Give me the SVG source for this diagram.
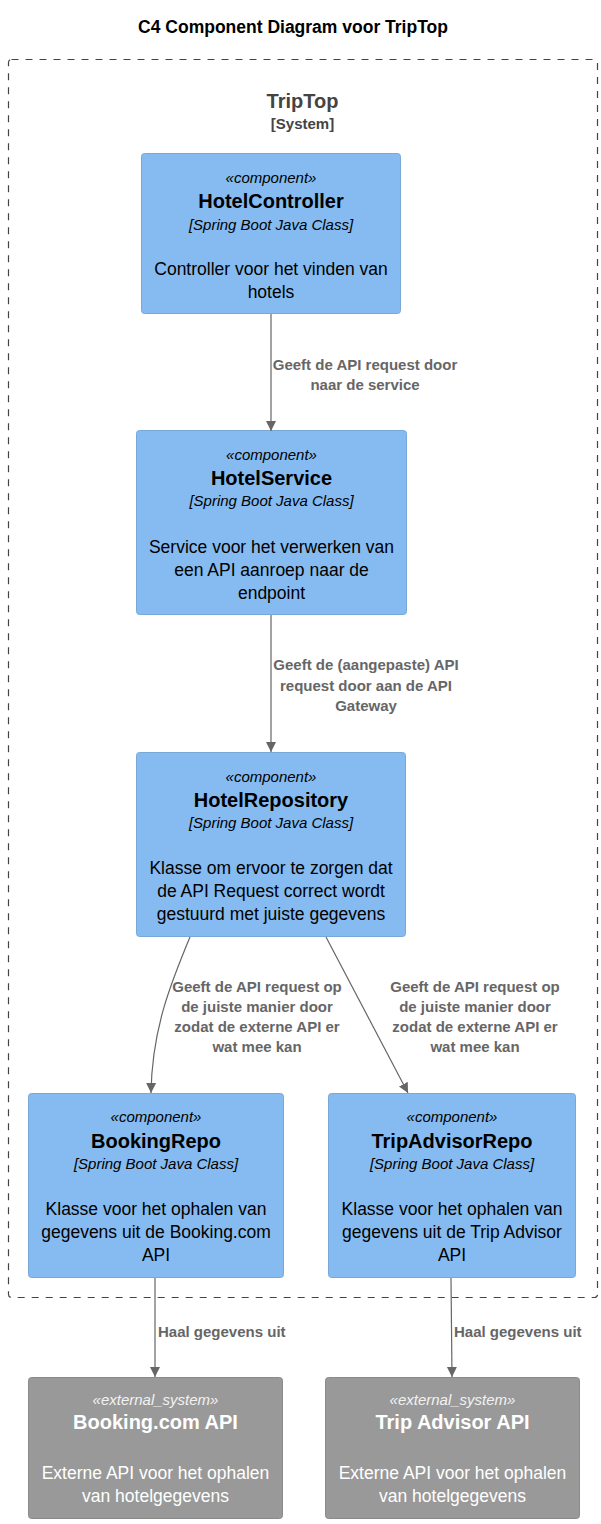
<svg xmlns="http://www.w3.org/2000/svg" width="601" height="1524" viewBox="0 0 601 1524">
<style>
text{font-family:"Liberation Sans",Arial,sans-serif;text-anchor:middle}
.title{font-size:17.5px;font-weight:bold;fill:#000}
.bname{font-size:20px;font-weight:bold;fill:#444}
.btype{font-size:15px;font-weight:bold;fill:#444}
.comp{fill:#85BBF0;stroke:#78A8D8;stroke-width:1}
.ext{fill:#999999;stroke:#8A8A8A;stroke-width:1}
.st{font-size:15px;font-style:italic;fill:#000}
.nm{font-size:20px;font-weight:bold;fill:#000}
.tc{font-size:15px;font-style:italic;fill:#000}
.ds{font-size:17.5px;fill:#000}
.ext-t .st,.ext-t .nm,.ext-t .ds{fill:#fff}
.ext-t .st{fill:#f2f2f2}
.conn{fill:none;stroke:#666;stroke-width:1.2}
.lbl{font-size:15px;font-weight:bold;fill:#666}
.lbll{font-size:15px;font-weight:bold;fill:#666;text-anchor:start}
</style>
<defs>
<marker id="ah" viewBox="0 0 10 10" refX="10" refY="5" markerWidth="10" markerHeight="11" markerUnits="userSpaceOnUse" orient="auto">
<path d="M0,0 L10,5 L0,10 z" fill="#666"/>
</marker>
</defs>
<rect width="601" height="1524" fill="#fff"/>
<text class="title" x="293" y="33">C4 Component Diagram voor TripTop</text>

<g id="boundary">
<rect x="8.5" y="59.5" width="589" height="1238" rx="3" fill="none" stroke="#444" stroke-width="1.2" stroke-dasharray="7,7"/>
<text class="bname" x="302.5" y="108">TripTop</text>
<text class="btype" x="302.5" y="129">[System]</text>
</g>

<g id="HotelController">
<rect class="comp" x="141.5" y="153.5" width="259" height="160" rx="3"/>
<text class="st" x="271" y="183">«component»</text>
<text class="nm" x="271" y="208">HotelController</text>
<text class="tc" x="271" y="230">[Spring Boot Java Class]</text>
<text class="ds" x="271" y="275">Controller voor het vinden van</text>
<text class="ds" x="271" y="298">hotels</text>
</g>

<g id="HotelService">
<rect class="comp" x="136.5" y="430.5" width="270" height="184" rx="3"/>
<text class="st" x="271.5" y="460">«component»</text>
<text class="nm" x="271.5" y="485">HotelService</text>
<text class="tc" x="271.5" y="506">[Spring Boot Java Class]</text>
<text class="ds" x="271.5" y="553">Service voor het verwerken van</text>
<text class="ds" x="271.5" y="576">een API aanroep naar de</text>
<text class="ds" x="271.5" y="599">endpoint</text>
</g>

<g id="HotelRepository">
<rect class="comp" x="136.5" y="752.5" width="269" height="184" rx="3"/>
<text class="st" x="271" y="782">«component»</text>
<text class="nm" x="271" y="807">HotelRepository</text>
<text class="tc" x="271" y="828">[Spring Boot Java Class]</text>
<text class="ds" x="271" y="874">Klasse om ervoor te zorgen dat</text>
<text class="ds" x="271" y="897">de API Request correct wordt</text>
<text class="ds" x="271" y="920">gestuurd met juiste gegevens</text>
</g>

<g id="BookingRepo">
<rect class="comp" x="28.5" y="1093.5" width="255" height="184" rx="3"/>
<text class="st" x="156" y="1122">«component»</text>
<text class="nm" x="156" y="1148">BookingRepo</text>
<text class="tc" x="156" y="1169">[Spring Boot Java Class]</text>
<text class="ds" x="156" y="1215">Klasse voor het ophalen van</text>
<text class="ds" x="156" y="1238">gegevens uit de Booking.com</text>
<text class="ds" x="156" y="1261">API</text>
</g>

<g id="TripAdvisorRepo">
<rect class="comp" x="328.5" y="1093.5" width="247" height="184" rx="3"/>
<text class="st" x="452" y="1122">«component»</text>
<text class="nm" x="452" y="1148">TripAdvisorRepo</text>
<text class="tc" x="452" y="1169">[Spring Boot Java Class]</text>
<text class="ds" x="452" y="1215">Klasse voor het ophalen van</text>
<text class="ds" x="452" y="1238">gegevens uit de Trip Advisor</text>
<text class="ds" x="452" y="1261">API</text>
</g>

<g id="BookingAPI" class="ext-t">
<rect class="ext" x="28.5" y="1377.5" width="254" height="141" rx="3"/>
<text class="st" x="155.5" y="1405">«external_system»</text>
<text class="nm" x="155.5" y="1429">Booking.com API</text>
<text class="ds" x="155.5" y="1479">Externe API voor het ophalen</text>
<text class="ds" x="155.5" y="1502">van hotelgegevens</text>
</g>

<g id="TripAdvisorAPI" class="ext-t">
<rect class="ext" x="325.5" y="1377.5" width="254" height="141" rx="3"/>
<text class="st" x="452.5" y="1405">«external_system»</text>
<text class="nm" x="452.5" y="1429">Trip Advisor API</text>
<text class="ds" x="452.5" y="1479">Externe API voor het ophalen</text>
<text class="ds" x="452.5" y="1502">van hotelgegevens</text>
</g>

<g id="connectors">
<path class="conn" d="M271,314 L271,431" marker-end="url(#ah)"/>
<text class="lbl" x="365" y="370">Geeft de API request door</text>
<text class="lbl" x="365" y="390">naar de service</text>

<path class="conn" d="M271,615 L271,752" marker-end="url(#ah)"/>
<text class="lbl" x="366" y="670">Geeft de (aangepaste) API</text>
<text class="lbl" x="366" y="691">request door aan de API</text>
<text class="lbl" x="366" y="711">Gateway</text>

<path class="conn" d="M190,937 C170,985 152,1030 151,1093" marker-end="url(#ah)"/>
<text class="lbl" x="257" y="992">Geeft de API request op</text>
<text class="lbl" x="257" y="1012">de juiste manier door</text>
<text class="lbl" x="257" y="1032">zodat de externe API er</text>
<text class="lbl" x="257" y="1052">wat mee kan</text>

<path class="conn" d="M326,937 L408,1093" marker-end="url(#ah)"/>
<text class="lbl" x="475" y="992">Geeft de API request op</text>
<text class="lbl" x="475" y="1012">de juiste manier door</text>
<text class="lbl" x="475" y="1032">zodat de externe API er</text>
<text class="lbl" x="475" y="1052">wat mee kan</text>

<path class="conn" d="M155,1278 L155,1377" marker-end="url(#ah)"/>
<text class="lbll" x="158" y="1337">Haal gegevens uit</text>

<path class="conn" d="M451,1278 L452,1377" marker-end="url(#ah)"/>
<text class="lbll" x="454" y="1337">Haal gegevens uit</text>
</g>
</svg>
